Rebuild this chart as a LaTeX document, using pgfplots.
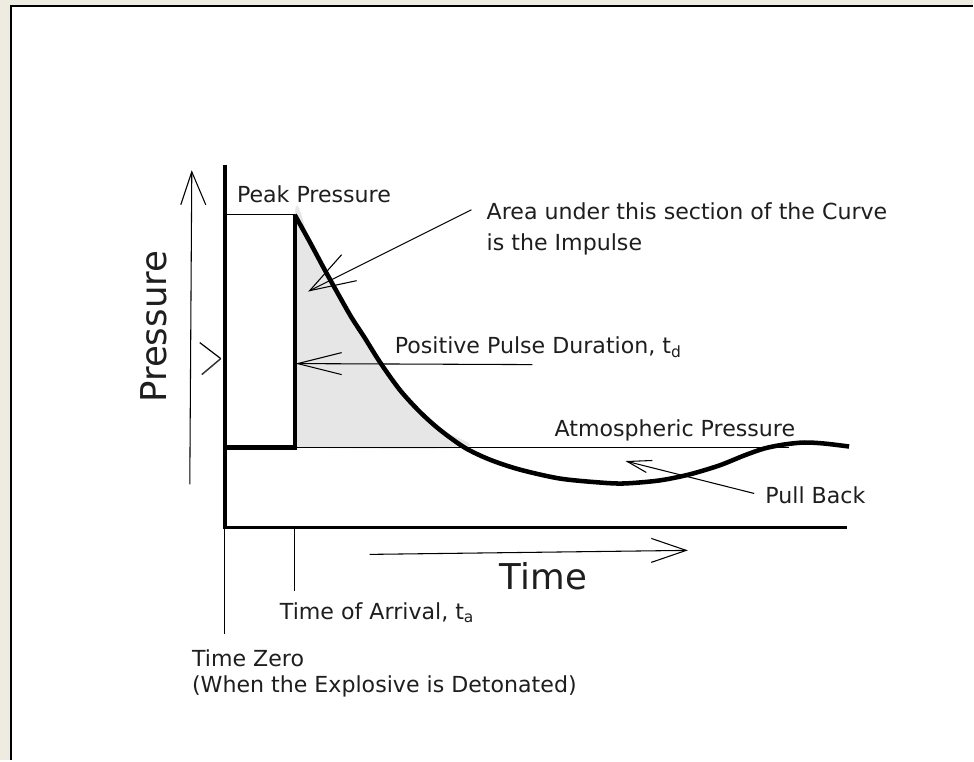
\documentclass[border=0pt]{standalone}
\usepackage{fontspec}
\setmainfont{DejaVu Sans}
\usepackage{pgfplots}
\pgfplotsset{compat=1.18}
\definecolor{bg}{HTML}{EEEBE0}
\definecolor{txt}{HTML}{1E1E1E}
\definecolor{thin}{HTML}{6E6E6E}
\definecolor{shade}{HTML}{E6E6E6}
\begin{document}
\begin{tikzpicture}
\begin{axis}[scale only axis, width=730.5pt, height=570.75pt,
  xmin=0, xmax=974, ymin=0, ymax=761, y dir=reverse, hide axis, clip=false]
\fill[bg] (0,0) rectangle (974,761);
\fill[white] (11,6) rectangle (974,761);
\draw[black, line width=1.6pt] (11,761) -- (11,6) -- (974,6);
% shaded impulse area
\addplot[draw=none, fill=shade, smooth] coordinates {
 (295,448)(295,215)(310,242)(325,270)(340,297)(352,318)(365,338)(380,362)
 (400,390)(420,412)(440,430)(465,448)(295,448)};
% thin guide lines
\draw[thin, line width=0.8pt] (225,215) -- (295,215);
\draw[thin, line width=0.8pt] (295,448) -- (790,448);
\draw[thin, line width=0.8pt] (225,528) -- (225,635);
\draw[thin, line width=0.8pt] (295,528) -- (295,592);
% pressure arrow
\draw[thin, line width=0.8pt] (190,485) -- (192,172);
\draw[thin, line width=0.8pt] (181,205) -- (192,172) -- (206,205);
\draw[thin, line width=0.9pt] (200,343) -- (221,359);
\draw[black!80, line width=1.1pt] (221,359) -- (202,375);
% time arrow
\draw[thin, line width=0.8pt] (370,555) -- (687,551);
\draw[thin, line width=0.8pt] (652,539) -- (687,551) -- (652,563);
% impulse arrow
\draw[thin, line width=0.8pt] (472,210) -- (310,291);
\draw[thin, line width=0.8pt] (342,255) -- (310,291) -- (357,281);
% pulse duration arrow
\draw[thin, line width=0.8pt] (533,365) -- (298,364);
\draw[thin, line width=0.8pt] (342,353) -- (298,364) -- (342,375);
% pull back arrow
\draw[thin, line width=0.8pt] (755,494) -- (628,462);
\draw[thin, line width=0.8pt] (653,461) -- (628,462) -- (647,473);
% axes
\addplot[black, line width=2.8pt, line join=miter] coordinates {(225,165)(225,528)(848,528)};
% pressure history
\addplot[black, line width=3.2pt, line join=miter] coordinates {(225,448)(295,448)(295,215)};
\addplot[black, line width=3.4pt, smooth, line cap=butt] coordinates {
 (295,215)(310,242)(325,270)(340,297)(352,318)(365,338)(380,362)(400,390)
 (420,412)(440,430)(465,448)(490,460)(520,470)(560,479)(600,483)(625,484)
 (660,481)(690,475)(720,466)(745,456)(765,449)(785,445)(805,443)(825,444)(850,447)};
% texts
\begin{scope}[every node/.style={text=txt, font=\fontsize{16.6}{19.5}\selectfont, inner sep=0pt}]
\node[anchor=base west] at (237,203) {Peak Pressure};
\node[anchor=base west] at (487,220) {Area under this section of the Curve};
\node[anchor=base west] at (487,251) {is the Impulse};
\node[anchor=base west] at (395,354) {Positive Pulse Duration, t\textsubscript{d}};
\node[anchor=base west] at (555,437) {Atmospheric Pressure};
\node[anchor=base west] at (766,504) {Pull Back};
\node[anchor=base west] at (280,620) {Time of Arrival, t\textsubscript{a}};
\node[anchor=base west] at (192,667) {Time Zero};
\node[anchor=base west] at (192,693) {(When the Explosive is Detonated)};
\end{scope}
\node[text=txt, font=\fontsize{26.7}{30}\selectfont, inner sep=0pt, anchor=base] at (544,590) {Time};
\node[text=txt, font=\fontsize{26.7}{30}\selectfont, inner sep=0pt, rotate=90] at (154,327) {Pressure};
\end{axis}
\end{tikzpicture}
\end{document}
